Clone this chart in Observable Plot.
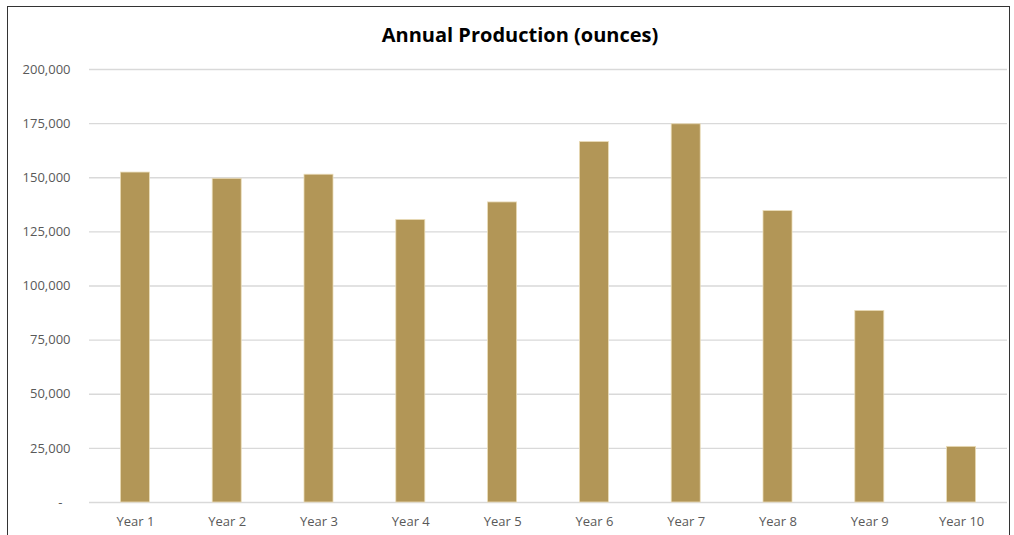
<!DOCTYPE html>
<html>
<head>
<meta charset="utf-8">
<script src="https://cdn.jsdelivr.net/npm/d3@7"></script>
<script src="https://cdn.jsdelivr.net/npm/@observablehq/plot@0.6"></script>
<style>
  html, body { margin: 0; padding: 0; background: #fff; overflow: hidden; }
  #frame { position: absolute; left: 7px; top: 6px; width: 1003px; height: 600px;
           border: 1.5px solid #333; box-sizing: border-box; }
  #wrap { position: absolute; left: 0; top: 0; width: 1014px; }
  #title { height: 50px; line-height: 70px; text-align: center; font-family: "Open Sans", sans-serif;
           font-weight: 700; font-size: 20px; color: #000; padding-left: 26px; box-sizing: border-box; }
</style>
</head>
<body>
<div id="frame"></div>
<div id="wrap">
  <div id="title">Annual Production (ounces)</div>
  <div id="chart"></div>
</div>
<script>
const years = ["Year 1","Year 2","Year 3","Year 4","Year 5","Year 6","Year 7","Year 8","Year 9","Year 10"];
const ounces = [152400, 149500, 151400, 130500, 138600, 166500, 174700, 134600, 88500, 25700];
const yTicks = [25000, 50000, 75000, 100000, 125000, 150000, 175000, 200000];

const data = years.map((y, i) => ({year: y, value: ounces[i]}));
const fmt = d3.format(",");

const chart = Plot.plot({
  width: 1014,
  height: 485,
  marginTop: 19,
  marginBottom: 33,
  marginLeft: 89,
  marginRight: 7,
  style: { fontFamily: "'Open Sans', sans-serif", fontSize: "13px", color: "#595959", background: "transparent" },
  x: { domain: years, paddingInner: 0.684, paddingOuter: 0.342, round: false, label: null },
  y: { domain: [0, 200000], label: null },
  marks: [
    Plot.gridY([0, ...yTicks], { stroke: "#d9d9d9", strokeOpacity: 1, strokeWidth: 1.3 }),
    Plot.barY(data, { x: "year", y: "value", fill: "#b29657", stroke: "#eadcb8", strokeWidth: 0.8 }),
    Plot.axisY(yTicks, { tickSize: 0, tickPadding: 19, tickFormat: fmt, label: null, fill: "#595959" }),
    Plot.axisY([0], { tickSize: 0, tickPadding: 27, tickFormat: () => "-", label: null, fill: "#595959" }),
    Plot.axisX({ tickSize: 0, tickPadding: 14, label: null, fill: "#595959", style: { letterSpacing: "0.5px" } })
  ]
});
document.getElementById("chart").appendChild(chart);
</script>
</body>
</html>
